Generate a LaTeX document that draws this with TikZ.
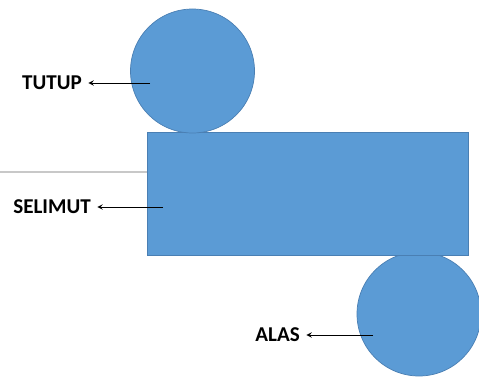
\documentclass[tikz,border=0pt]{standalone}
\usepackage{fontspec}
\setmainfont{Carlito}
\usepackage{xcolor}
\usetikzlibrary{positioning}
\usetikzlibrary{calc}

\definecolor{netblue}{HTML}{5B9BD5}
\definecolor{netedge}{HTML}{4A7FB3}
\definecolor{netgray}{HTML}{C8C8C8}

\tikzset{
	netpart/.style={fill=netblue, draw=netedge, line width=0.5pt, inner sep=0pt},
	netlabel/.style={font=\fontsize{15}{17}\selectfont\bfseries, text=black},
	netarrow/.style={-stealth, line width=0.7pt, shorten >=0.04cm}
}

\begin{document}
\begin{tikzpicture}[scale=1.0, every node/.style={scale=1.0}]
			\useasboundingbox (0,0) rectangle (11.975,9.4);
			\draw[color=netgray, line width=1pt] (0,5.1) -- (3.675,5.1);
			
			% jaring-jaring tabung
			\node[netpart, circle, minimum size=3.1cm] (alas) at (10.475,1.55) {};
			\node[netpart, rectangle, minimum width=8.025cm, minimum height=3.075cm] (selimut) at (7.6875,4.5625) {};
			\node[netpart, circle, minimum size=3.1cm] (tutup) at (4.8125,7.625) {};
			
			\node[netlabel] (tutuplabel) at (1.3,7.325) {TUTUP};
			\node[netlabel] (selimutlabel) at (1.3,4.225) {SELIMUT};
			\node[netlabel] (alaslabel) at (6.94,1.025) {ALAS};
			
			\coordinate (tutupend) at (3.75,7.325);
			\coordinate (selimutend) at (4.075,4.225);
			\coordinate (alasend) at (9.325,1.025);
			
			\draw[netarrow] (tutupend) -- (tutuplabel.east);
			\draw[netarrow] (selimutend) -- (selimutlabel.east);
			\draw[netarrow] (alasend) -- (alaslabel.east);
		\end{tikzpicture}
\end{document}
